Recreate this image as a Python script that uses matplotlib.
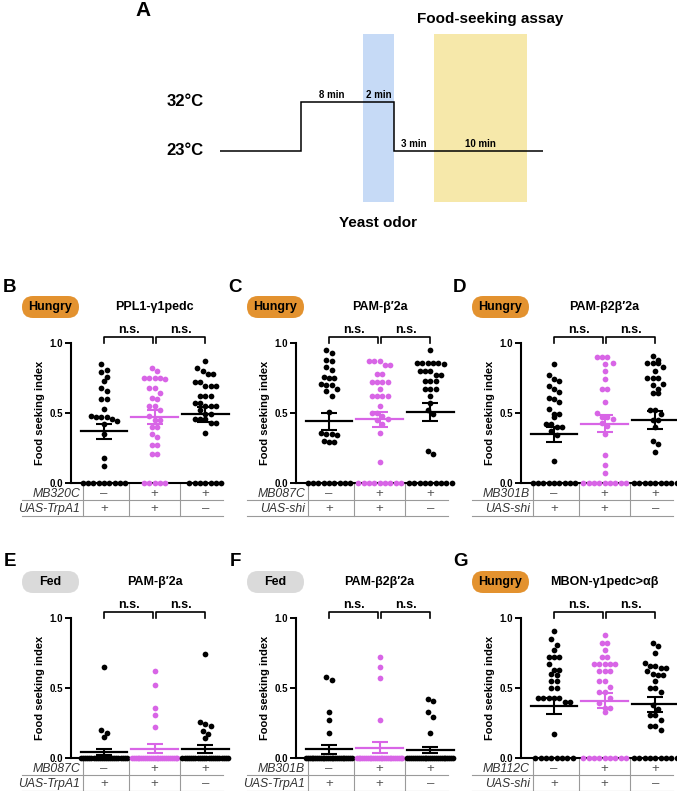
import numpy as np
import matplotlib
matplotlib.use('Agg')
import matplotlib.pyplot as plt
from matplotlib.patches import FancyBboxPatch

plt.rcParams['font.family'] = ['Liberation Sans', 'DejaVu Sans']
plt.rcParams['font.weight'] = 'bold'

W, H = 677, 791
MAGENTA = '#D865E6'
ORANGE = '#E3922F'
FED_GREY = '#DADADA'

# ---- panel A: protocol schematic ----
phase_labels = ['', '8 min', '2 min', '3 min', '10 min', '']
phase_widths = [2.6, 2.0, 1.0, 1.3, 3.0, 0.5]   # schematic, not to scale
phase_temps = [23, 32, 32, 23, 23, 23]

# ---- panels B-G ----
panel_letters = ['B', 'C', 'D', 'E', 'F', 'G']
panel_states = ['Hungry', 'Hungry', 'Hungry', 'Fed', 'Fed', 'Hungry']
panel_titles = ['PPL1-γ1pedc', 'PAM-β′2a', 'PAM-β2β′2a',
                'PAM-β′2a', 'PAM-β2β′2a', 'MBON-γ1pedc>αβ']
gal4_lines = ['MB320C', 'MB087C', 'MB301B', 'MB087C', 'MB301B', 'MB112C']
uas_lines = ['UAS-TrpA1', 'UAS-shi', 'UAS-shi', 'UAS-TrpA1', 'UAS-TrpA1', 'UAS-shi']
gal4_signs = ['–', '+', '+']
uas_signs = ['+', '+', '–']
group_colors = ['black', MAGENTA, 'black']

b_vals = [
    [0.85, 0.81, 0.79, 0.76, 0.73, 0.68, 0.66, 0.60, 0.60, 0.53, 0.47, 0.47, 0.46, 0.48,
     0.47, 0.44, 0.42, 0.35, 0.18, 0.12] + [0.0] * 9,
    [0.82, 0.80, 0.75, 0.75, 0.75, 0.75, 0.74, 0.68, 0.68, 0.64, 0.61, 0.60, 0.55, 0.55,
     0.52, 0.48, 0.45, 0.45, 0.40, 0.40, 0.35, 0.33, 0.27, 0.27, 0.21, 0.21] + [0.0] * 5,
    [0.87, 0.82, 0.80, 0.78, 0.78, 0.72, 0.72, 0.69, 0.69, 0.69, 0.62, 0.62, 0.62, 0.57,
     0.57, 0.55, 0.55, 0.55, 0.52, 0.49, 0.49, 0.46, 0.46, 0.46, 0.43, 0.43, 0.36] + [0.0] * 7,
]
c_vals = [
    [0.95, 0.93, 0.88, 0.87, 0.83, 0.81, 0.76, 0.75, 0.75, 0.71, 0.70, 0.70, 0.67, 0.66,
     0.62, 0.51, 0.35, 0.35, 0.34, 0.36, 0.29, 0.29, 0.30] + [0.0] * 9,
    [0.87, 0.87, 0.87, 0.84, 0.84, 0.78, 0.78, 0.72, 0.72, 0.72, 0.72, 0.67, 0.62, 0.62,
     0.62, 0.62, 0.55, 0.50, 0.50, 0.48, 0.46, 0.45, 0.42, 0.36, 0.15] + [0.0] * 9,
    [0.95, 0.86, 0.86, 0.86, 0.86, 0.86, 0.85, 0.80, 0.80, 0.80, 0.77, 0.77, 0.73, 0.73,
     0.73, 0.67, 0.67, 0.67, 0.62, 0.57, 0.52, 0.49, 0.23, 0.21] + [0.0] * 9,
]
d_vals = [
    [0.85, 0.77, 0.74, 0.73, 0.69, 0.67, 0.65, 0.61, 0.60, 0.58, 0.53, 0.49, 0.49, 0.47,
     0.42, 0.42, 0.40, 0.40, 0.37, 0.34, 0.16] + [0.0] * 9,
    [0.90, 0.90, 0.90, 0.86, 0.85, 0.80, 0.74, 0.67, 0.67, 0.58, 0.50, 0.47, 0.47, 0.46,
     0.43, 0.41, 0.35, 0.20, 0.13, 0.07] + [0.0] * 9,
    [0.91, 0.88, 0.86, 0.86, 0.86, 0.83, 0.80, 0.75, 0.75, 0.75, 0.71, 0.70, 0.67, 0.64,
     0.64, 0.52, 0.52, 0.49, 0.45, 0.45, 0.40, 0.30, 0.28, 0.22] + [0.0] * 9,
]
e_vals = [
    [0.65, 0.20, 0.18, 0.15] + [0.0] * 23,
    [0.62, 0.52, 0.36, 0.31, 0.22] + [0.0] * 25,
    [0.74, 0.26, 0.24, 0.23, 0.19, 0.17, 0.14] + [0.0] * 22,
]
f_vals = [
    [0.58, 0.56, 0.33, 0.27, 0.18] + [0.0] * 26,
    [0.72, 0.65, 0.57, 0.27] + [0.0] * 26,
    [0.42, 0.41, 0.33, 0.29, 0.18] + [0.0] * 25,
]
g_vals = [
    [0.91, 0.85, 0.81, 0.77, 0.72, 0.72, 0.72, 0.67, 0.63, 0.63, 0.60, 0.59, 0.55, 0.55,
     0.50, 0.50, 0.43, 0.43, 0.43, 0.43, 0.43, 0.40, 0.40, 0.17] + [0.0] * 8,
    [0.88, 0.82, 0.82, 0.77, 0.72, 0.72, 0.67, 0.67, 0.67, 0.67, 0.67, 0.62, 0.62, 0.62,
     0.55, 0.55, 0.51, 0.47, 0.47, 0.43, 0.39, 0.36, 0.36, 0.33] + [0.0] * 9,
    [0.82, 0.80, 0.75, 0.68, 0.66, 0.66, 0.64, 0.64, 0.62, 0.60, 0.59, 0.59, 0.55, 0.50,
     0.50, 0.47, 0.38, 0.35, 0.31, 0.31, 0.27, 0.23, 0.23, 0.20] + [0.0] * 9,
]
panel_vals = [b_vals, c_vals, d_vals, e_vals, f_vals, g_vals]

# mean and SEM as drawn in the figure
panel_means = [[0.37, 0.47, 0.49], [0.44, 0.455, 0.507], [0.348, 0.424, 0.448],
               [0.043, 0.067, 0.067], [0.062, 0.074, 0.055], [0.371, 0.41, 0.383]]
panel_sems = [[0.055, 0.05, 0.052], [0.063, 0.055, 0.065], [0.055, 0.06, 0.065],
              [0.024, 0.031, 0.028], [0.032, 0.037, 0.022], [0.055, 0.055, 0.052]]


def spread(vals, thresh=0.045, step=0.105, max_w=0.9):
    # prism-like scatter: values close together are laid out in a row
    v = np.sort(np.asarray(vals, dtype=float))[::-1]
    xs = np.zeros(len(v))
    i = 0
    while i < len(v):
        j = i
        while j + 1 < len(v) and v[i] - v[j + 1] < thresh:
            j += 1
        n = j - i + 1
        d = step if n < 2 else min(step, max_w / (n - 1))
        xs[i:j + 1] = (np.arange(n) - (n - 1) / 2) * d
        i = j + 1
    return v, xs


fig = plt.figure(figsize=(W / 100, H / 100), dpi=100)

# overlay in pixel coordinates for labels and pills
ov = fig.add_axes([0, 0, 1, 1])
ov.set_xlim(0, W)
ov.set_ylim(H, 0)
ov.axis('off')

# ---- panel A ----
axA = fig.add_axes([220 / W, 1 - 210 / H, 323 / W, 180 / H])
edges = np.concatenate([[0], np.cumsum(phase_widths)])
axA.set_xlim(edges[0], edges[-1])
axA.set_ylim(12.16, 45.22)
axA.axis('off')
axA.axvspan(edges[2], edges[3], ymin=0.044, ymax=0.978, color='#C6DAF6', lw=0, zorder=0)
axA.axvspan(edges[4], edges[5], ymin=0.044, ymax=0.978, color='#F6E8AA', lw=0, zorder=0)
axA.stairs(phase_temps, edges, baseline=None, color='black', lw=1.1, zorder=2)
for i, lab in enumerate(phase_labels):
    if lab:
        axA.annotate(lab, ((edges[i] + edges[i + 1]) / 2, phase_temps[i]),
                     xytext=(0, 1.5), textcoords='offset points',
                     ha='center', va='bottom', fontsize=7)
for t in sorted(set(phase_temps)):
    axA.text(-0.52, t, f'{t}°C', ha='right', va='center', fontsize=12)
axA.text((edges[2] + edges[3]) / 2, 9.8, 'Yeast odor', ha='center', va='center', fontsize=11)
axA.text(6.34, 47.3, 'Food-seeking assay', ha='left', va='center', fontsize=11)
ov.text(143, 11, 'A', ha='center', va='center', fontsize=15)

# ---- panels B-G ----
col_off = [0, 225, 450]
row_base = [483, 758]
AX_L, AX_W, AX_H = 71, 152, 140

for k in range(6):
    r, c = divmod(k, 3)
    off = col_off[c]
    top = row_base[r] - AX_H
    ax = fig.add_axes([(AX_L + off) / W, 1 - row_base[r] / H, AX_W / W, AX_H / H])
    ax.set_xlim(-0.65, 2.35)
    ax.set_ylim(0, 1)
    for s in ['top', 'right']:
        ax.spines[s].set_visible(False)
    for s in ['left', 'bottom']:
        ax.spines[s].set_linewidth(1.5)
    ax.set_xticks([])
    ax.set_yticks([0, 0.5, 1.0])
    ax.set_yticklabels(['0.0', '0.5', '1.0'], fontsize=7, fontweight='bold')
    ax.tick_params(axis='y', length=4.5, width=1.4, pad=1)
    ax.patch.set_alpha(0)
    ax.text(-0.204, 0.5, 'Food seeking index', transform=ax.transAxes, rotation=90,
            ha='center', va='center', fontsize=8)

    for g in range(3):
        v, xs = spread(panel_vals[k][g])
        ax.scatter(g + xs, v, s=17, color=group_colors[g], linewidths=0,
                   zorder=3, clip_on=False)
        m, se = panel_means[k][g], panel_sems[k][g]
        ax.plot([g - 0.46, g + 0.46], [m, m], color=group_colors[g], lw=1.6,
                zorder=4, clip_on=False)
        ax.errorbar(g, m, yerr=se, color=group_colors[g], capsize=6, capthick=1.5,
                    elinewidth=1.5, zorder=4, clip_on=False)

    # significance brackets
    for a, b in [(0, 0.97), (1.03, 2)]:
        ax.plot([a, a, b, b], [1.0, 1.04, 1.04, 1.0], color='black', lw=1.2, clip_on=False)
        ax.text((a + b) / 2, 1.05, 'n.s.', ha='center', va='bottom', fontsize=9)

    ax.text(1, 1.257, panel_titles[k], ha='center', va='center', fontsize=9)

    # genotype table
    for yl in [-0.121, -0.236]:
        ax.plot([-1.617, 2.35], [yl, yl], color='#9a9a9a', lw=0.8, clip_on=False)
    for xl in [-0.42, 0.5, 1.5]:
        ax.plot([xl, xl], [0, -0.236], color='#9a9a9a', lw=0.8, clip_on=False)
    for yl, name, signs in [(-0.082, gal4_lines[k], gal4_signs),
                            (-0.185, uas_lines[k], uas_signs)]:
        ax.text(-0.47, yl, name, ha='right', va='center', fontsize=8.8,
                fontstyle='italic', fontweight='normal', color='#333333')
        for g in range(3):
            ax.text(g, yl, signs[g], ha='center', va='center', fontsize=9.5,
                    fontweight='normal', color='#555555')

    # panel letter and condition pill
    ov.text(10 + off, top - 56, panel_letters[k], ha='center', va='center', fontsize=13.5)
    pill_c = ORANGE if panel_states[k] == 'Hungry' else FED_GREY
    ov.add_patch(FancyBboxPatch((22 + off, top - 47), 57, 22,
                                boxstyle='round,pad=0,rounding_size=11',
                                fc=pill_c, ec='none'))
    ov.text(50.5 + off, top - 36, panel_states[k], ha='center', va='center', fontsize=9)

fig.savefig('out.png', dpi=100)
